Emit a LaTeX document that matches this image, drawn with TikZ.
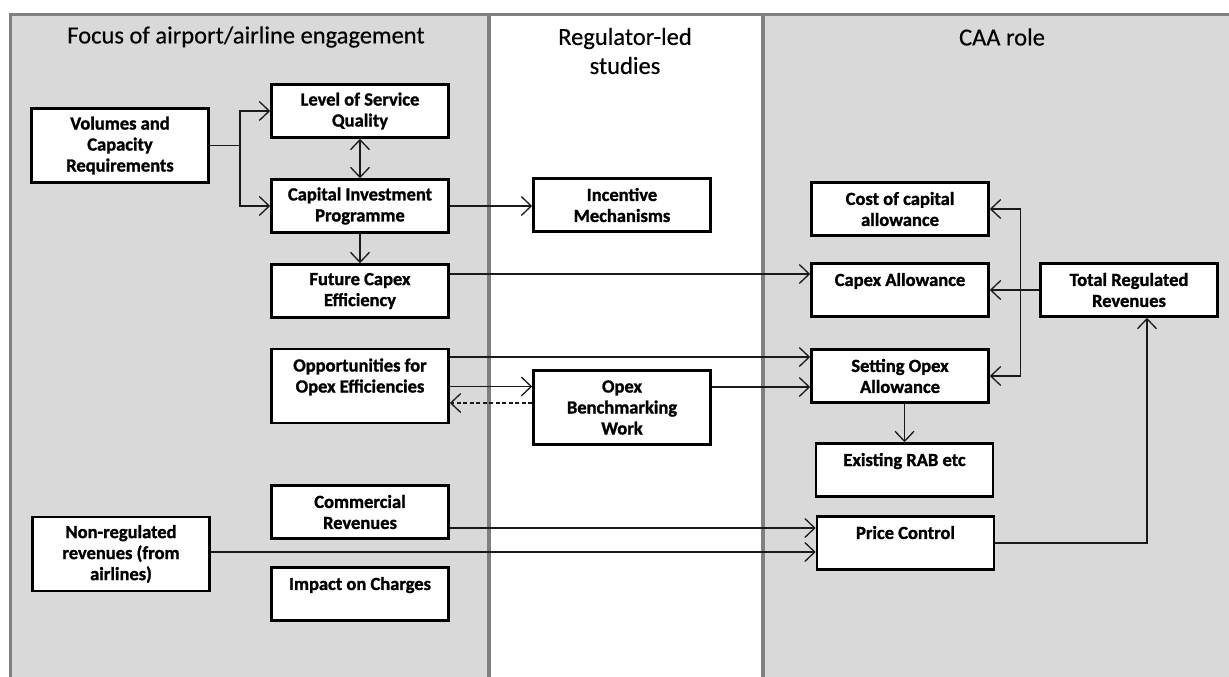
\documentclass[tikz,border=0pt]{standalone}
\usepackage{fontspec}
\setmainfont{Carlito}
\newfontfamily\boxfont{Carlito}[BoldFeatures={FakeBold=1.3}]
\newfontfamily\titlefont{Carlito}[FakeBold=0.4]
\usetikzlibrary{arrows.meta}
\definecolor{panelgray}{HTML}{D9D9D9}
\definecolor{panelborder}{HTML}{808080}
\definecolor{linecol}{HTML}{1A1A1A}
\begin{document}
\begin{tikzpicture}[x=1pt,y=-1pt,
  panel/.style={draw=panelborder, line width=3.5pt},
  title/.style={font=\titlefont\fontsize{24.5}{29}\selectfont, align=center, inner sep=0pt},
  box/.style={draw=black, line width=2.6pt, fill=white, minimum width=177pt, minimum height=53pt,
              align=center, inner sep=0pt, font=\boxfont\bfseries\fontsize{18.5}{21}\selectfont},
  tall/.style={minimum height=74pt},
  barb/.tip={Straight Barb[length=10pt,width=19pt,line width=1.3pt]},
  conn/.style={draw=linecol, line width=1.3pt, -barb},
  plain/.style={draw=linecol, line width=1.3pt},
  both/.style={draw=linecol, line width=1.3pt, barb-barb},
  dashconn/.style={draw=linecol, line width=1.1pt, dashed, dash pattern=on 4pt off 2.5pt, -barb}
]
\clip (0,0) rectangle (1229,677);
\fill[white] (0,0) rectangle (1229,677);
\useasboundingbox (0,0) rectangle (1229,677);

% panels
\filldraw[panel, fill=panelgray] (10.5,14.3) rectangle (489,700);
\filldraw[panel, fill=panelgray] (763,14.3) rectangle (1245,700);
\filldraw[panel, fill=white] (489,14.3) rectangle (763,700);

% titles
\node[title] (t1) at (246,37) {Focus of airport/airline engagement};
\node[title] (t2) at (625,51) {Regulator-led\\studies};
\node[title] (t3) at (1002,37) {CAA role};

% boxes
\node[box, tall] (vol) at (120,145.5) {Volumes and\\Capacity\\Requirements};
\node[box] (los) at (360,111) {Level of Service\\Quality};
\node[box] (cip) at (360,206) {Capital Investment\\Programme};
\node[box] (inc) at (622,205) {Incentive\\Mechanisms};
\node[box] (coc) at (900,209) {Cost of capital\\allowance};
\node[box] (fce) at (360,291) {Future Capex\\Efficiency};
\node[box, tall] (opp) at (360,386) {Opportunities for\\Opex Efficiencies\\\mbox{}};
\node[box] (com) at (360,512) {Commercial\\Revenues};
\node[box, tall] (nrr) at (121,554) {Non-regulated\\revenues (from\\airlines)};
\node[box] (imp) at (360,594) {Impact on Charges\\\mbox{}};
\node[box, tall] (obw) at (622,407.5) {Opex\\Benchmarking\\Work};
\node[box] (capa) at (900,290) {Capex Allowance\\\mbox{}};
\node[box] (trr) at (1129,290) {Total Regulated\\Revenues};
\node[box] (sop) at (900,376) {Setting Opex\\Allowance};
\node[box] (rab) at (904.5,470) {Existing RAB etc\\\mbox{}};
\node[box] (pc) at (905.5,543) {Price Control\\\mbox{}};

% connectors
\coordinate (j1) at (240,145.5);
\draw[plain] (vol.east) -- (j1);
\draw[conn] (j1) |- (los.west);
\draw[conn] (j1) |- (cip.west);
\draw[both] (los.south) -- (cip.north);
\draw[conn] (cip.south) -- (fce.north);
\draw[conn] (cip.east) -- (cip.east -| inc.west);
\draw[conn] ([yshift=17pt]fce.east) -- ([yshift=17pt]fce.east -| capa.west);
\draw[conn] ([yshift=29pt]opp.east) -- ([yshift=29pt]opp.east -| sop.west);
\draw[conn] ([yshift=-0.5pt]opp.east) -- ([yshift=-0.5pt]opp.east -| obw.west);
\draw[dashconn] ([yshift=4.5pt]obw.west) -- ([yshift=4.5pt]obw.west -| opp.east);
\draw[conn] ([yshift=20.5pt]obw.east) -- ([yshift=20.5pt]obw.east -| sop.west);
\draw[conn] ([yshift=-16pt]com.east) -- ([yshift=-16pt]com.east -| pc.west);
\draw[conn] ([yshift=2pt]nrr.east) -- ([yshift=2pt]nrr.east -| pc.west);
\draw[conn] (trr.west) -- (trr.west -| capa.east);
\draw[both] (coc.east) -- ++(31,0) |- (sop.east);
\draw[conn] (rab.north |- sop.south) -- (rab.north);
\draw[conn] (pc.east) -| ([xshift=18pt]trr.south);
\end{tikzpicture}
\end{document}
